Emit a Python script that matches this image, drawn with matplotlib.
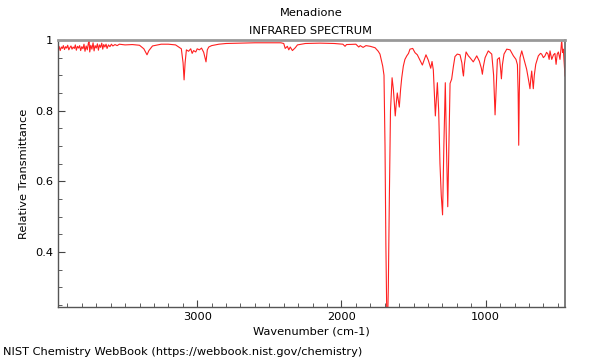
import matplotlib
matplotlib.use('Agg')
import matplotlib.pyplot as plt
from matplotlib.ticker import MultipleLocator, FuncFormatter

title = 'Menadione'
subtitle = 'INFRARED SPECTRUM'
footer = 'NIST Chemistry WebBook (https://webbook.nist.gov/chemistry)'

# noisy high-wavenumber end
wn_high = [3965, 3958, 3950, 3942, 3935, 3928, 3920, 3912, 3905, 3898, 3890, 3882,
           3875, 3868, 3860, 3852, 3845, 3838, 3830, 3822, 3815, 3808, 3800, 3792,
           3785, 3778, 3770, 3762, 3755, 3750, 3745, 3738, 3730, 3722, 3715, 3708,
           3700, 3692, 3685, 3678, 3670, 3662, 3655, 3648, 3640, 3632, 3625, 3615,
           3605, 3595, 3585, 3570, 3555, 3540]
tr_high = [0.975, 0.982, 0.970, 0.980, 0.976, 0.984, 0.973, 0.981, 0.977, 0.985, 0.972, 0.979,
           0.983, 0.974, 0.980, 0.976, 0.986, 0.971, 0.982, 0.977, 0.984, 0.970, 0.981, 0.975,
           0.988, 0.968, 0.983, 0.972, 0.990, 0.998, 0.966, 0.985, 0.974, 0.992, 0.969, 0.984,
           0.977, 0.989, 0.971, 0.986, 0.979, 0.991, 0.974, 0.987, 0.980, 0.988, 0.976, 0.986,
           0.981, 0.988, 0.983, 0.987, 0.984, 0.988]

# rest of the spectrum
wn_low = [3500, 3450, 3400, 3370, 3355, 3348, 3335, 3310, 3250, 3200, 3150, 3110,
          3098, 3091, 3084, 3075, 3060, 3045, 3035, 3025, 3010, 3000, 2985, 2970,
          2955, 2939, 2930, 2920, 2900, 2850, 2800, 2700, 2600, 2500, 2420, 2400,
          2390, 2375, 2365, 2355, 2340, 2320, 2305, 2250, 2150, 2050, 1990, 1975,
          1965, 1900, 1880, 1870, 1850, 1830, 1800, 1767, 1745, 1733, 1714, 1705,
          1698, 1692, 1686, 1680, 1675, 1668, 1660, 1649, 1640, 1627, 1620, 1613,
          1606, 1599, 1590, 1582, 1571, 1560, 1547, 1535, 1525, 1506, 1490, 1474,
          1455, 1439, 1428, 1414, 1398, 1381, 1372, 1363, 1356, 1349, 1342, 1335,
          1326, 1317, 1308, 1299, 1290, 1280, 1272, 1263, 1255, 1247, 1236, 1224,
          1213, 1197, 1178, 1165, 1159, 1154, 1148, 1136, 1120, 1109, 1086, 1062,
          1044, 1030, 1023, 1016, 1004, 982, 958, 945, 935, 926, 919, 905,
          897, 891, 884, 873, 854, 831, 808, 790, 780, 775, 771, 767,
          762, 750, 734, 716, 700, 693, 687, 681, 676, 670, 663, 653,
          635, 620, 612, 600, 589, 578, 568, 560, 554, 542, 530, 520,
          512, 504, 496, 485, 478, 473, 467, 462, 456, 450]
tr_low = [0.986, 0.987, 0.985, 0.975, 0.963, 0.958, 0.970, 0.983, 0.988, 0.988, 0.986, 0.975,
          0.935, 0.887, 0.935, 0.972, 0.968, 0.975, 0.962, 0.970, 0.966, 0.975, 0.972, 0.977,
          0.965, 0.938, 0.972, 0.980, 0.984, 0.988, 0.990, 0.991, 0.992, 0.992, 0.992, 0.990,
          0.976, 0.982, 0.972, 0.980, 0.970, 0.978, 0.986, 0.990, 0.991, 0.990, 0.988, 0.982,
          0.987, 0.988, 0.980, 0.984, 0.979, 0.984, 0.982, 0.978, 0.968, 0.960, 0.926, 0.900,
          0.700, 0.420, 0.230, 0.200, 0.300, 0.550, 0.800, 0.893, 0.860, 0.785, 0.820, 0.850,
          0.830, 0.810, 0.860, 0.893, 0.926, 0.945, 0.955, 0.962, 0.974, 0.976, 0.964, 0.958,
          0.942, 0.929, 0.942, 0.958, 0.943, 0.920, 0.939, 0.915, 0.850, 0.785, 0.830, 0.879,
          0.800, 0.650, 0.560, 0.505, 0.700, 0.879, 0.700, 0.528, 0.700, 0.877, 0.889, 0.925,
          0.953, 0.960, 0.958, 0.935, 0.910, 0.898, 0.930, 0.966, 0.955, 0.950, 0.938, 0.955,
          0.940, 0.920, 0.903, 0.925, 0.950, 0.969, 0.960, 0.900, 0.788, 0.880, 0.945, 0.950,
          0.920, 0.890, 0.930, 0.960, 0.974, 0.972, 0.955, 0.945, 0.930, 0.850, 0.702, 0.850,
          0.950, 0.969, 0.945, 0.917, 0.880, 0.862, 0.890, 0.912, 0.890, 0.862, 0.900, 0.931,
          0.955, 0.962, 0.960, 0.950, 0.955, 0.965, 0.960, 0.945, 0.969, 0.945, 0.958, 0.962,
          0.931, 0.960, 0.966, 0.945, 0.975, 1.000, 0.965, 0.974, 0.935, 0.898]

wavenumber = wn_high + wn_low
transmittance = tr_high + tr_low

fig = plt.figure(figsize=(6, 3.6), dpi=100)
ax = fig.add_axes([0.0967, 0.147, 0.845, 0.742])

ax.plot(wavenumber, transmittance, color='#ff2020', linewidth=0.8)

ax.set_xlim(3965, 450)
ax.set_ylim(0.244, 1.0)

ax.xaxis.set_major_locator(MultipleLocator(1000))
ax.xaxis.set_minor_locator(MultipleLocator(100))
ax.yaxis.set_major_locator(MultipleLocator(0.2))
ax.yaxis.set_minor_locator(MultipleLocator(0.05))
ax.yaxis.set_major_formatter(FuncFormatter(lambda v, p: '%g' % round(v, 2)))

ax.tick_params(which='both', direction='in', top=False, right=False, labelsize=8.2)
ax.tick_params(which='major', length=5, width=0.8, color='#444444')
ax.tick_params(which='minor', length=3, width=0.6, color='#444444')

ax.spines['top'].set_color('#999999')
ax.spines['top'].set_linewidth(2)
ax.spines['right'].set_color('#666666')
ax.spines['right'].set_linewidth(1.2)
for side in ['left', 'bottom']:
    ax.spines[side].set_color('#555555')
    ax.spines[side].set_linewidth(1)

ax.set_xlabel('Wavenumber (cm-1)', fontsize=8.2, labelpad=3)
ax.set_ylabel('Relative Transmittance', fontsize=8.2)

fig.text(0.518, 0.965, title, ha='center', va='center', fontsize=8.2)
fig.text(0.518, 0.915, subtitle, ha='center', va='center', fontsize=8.2)
fig.text(0.005, 0.022, footer, ha='left', va='center', fontsize=8.2)

fig.savefig('out.png', dpi=100)
